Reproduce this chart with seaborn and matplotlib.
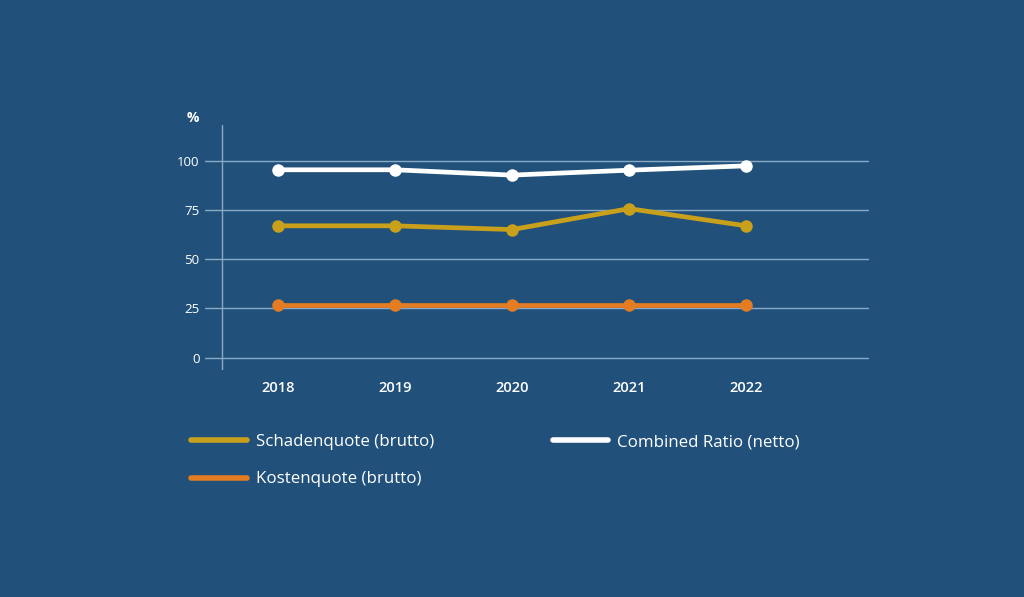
import numpy as np
import pandas as pd
import matplotlib
matplotlib.use("Agg")
import matplotlib.pyplot as plt
import seaborn as sns

# values
years = [2018, 2019, 2020, 2021, 2022]
schadenquote = [66.9, 66.9, 65.0, 75.6, 66.9]
kostenquote = [26.6, 26.6, 26.6, 26.6, 26.6]
combined_ratio = [95.3, 95.3, 92.6, 95.1, 97.3]

series_names = ["Schadenquote (brutto)", "Kostenquote (brutto)", "Combined Ratio (netto)"]
colors = ["#c9a01c", "#e47c22", "#ffffff"]

bg = "#21517a"
grid_col = "#8aa9c6"

df = pd.DataFrame({
    "Jahr": years * 3,
    "Wert": schadenquote + kostenquote + combined_ratio,
    "Reihe": [series_names[0]] * 5 + [series_names[1]] * 5 + [series_names[2]] * 5,
})

sns.set_theme(style="white")
plt.rcParams["font.family"] = ["Open Sans", "DejaVu Sans"]

fig = plt.figure(figsize=(10.24, 5.97), dpi=100, facecolor=bg)
ax = fig.add_axes([0.2002, 0.3802, 0.6484, 0.4104])
ax.set_facecolor(bg)

sns.lineplot(data=df, x="Jahr", y="Wert", hue="Reihe", hue_order=series_names,
             palette=colors, marker="o", markersize=9, markeredgewidth=0,
             linewidth=3.4, ax=ax, legend=False, zorder=3)

ax.set_xlim(2018 - 0.624, 2022 + 1.05)
ax.set_ylim(-6.2, 118)
ax.set_yticks([0, 25, 50, 75, 100])
ax.set_xticks(years)
for y in [0, 25, 50, 75, 100]:
    ax.axhline(y, color=grid_col, linewidth=1, zorder=1)
ax.axvline(2018 - 0.479, color=grid_col, linewidth=1, zorder=1)

for s in ax.spines.values():
    s.set_visible(False)
ax.tick_params(axis="both", length=0, colors="white")
ax.tick_params(axis="y", pad=4, labelsize=9.5)
ax.tick_params(axis="x", pad=8, labelsize=10.5)
for lab in ax.get_xticklabels():
    lab.set_fontweight("semibold")
ax.set_xlabel("")
ax.set_ylabel("")

fig.text(193 / 1024, 1 - 118 / 597, "%", color="white", fontsize=10,
         fontweight="bold", ha="center", va="center")

handles = [plt.Line2D([], [], color=c, linewidth=4, solid_capstyle="round") for c in colors]
leg = fig.legend(handles, series_names, loc="upper left",
                 bbox_to_anchor=(176 / 1024, 1 - 419 / 597), ncol=2,
                 frameon=False, fontsize=12.2, labelcolor="white",
                 handlelength=3.3, handletextpad=0.5, columnspacing=7.0,
                 labelspacing=1.25)

fig.savefig("out.png", dpi=100, facecolor=bg)
